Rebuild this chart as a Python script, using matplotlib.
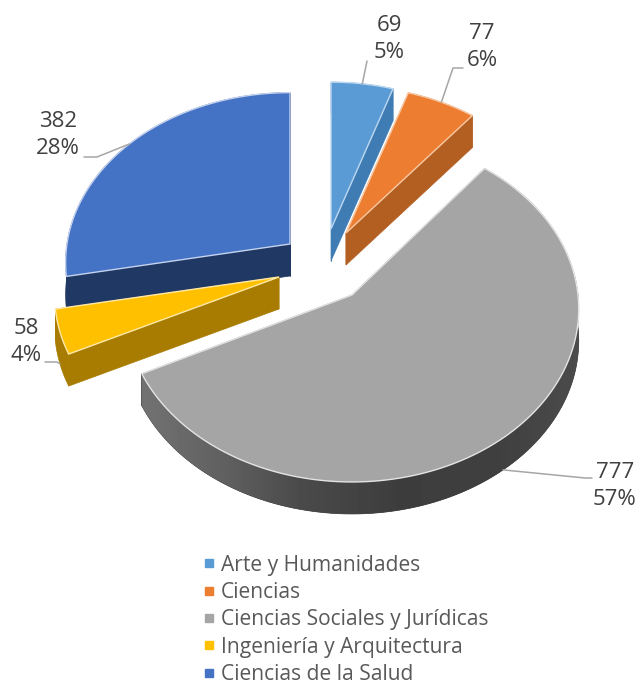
import numpy as np
import matplotlib
matplotlib.use("Agg")
import matplotlib.pyplot as plt
from matplotlib.lines import Line2D
from matplotlib.patches import Polygon

plt.rcParams["font.family"] = ["Open Sans", "DejaVu Sans"]

categories = ["Arte y Humanidades", "Ciencias", "Ciencias Sociales y Jurídicas",
              "Ingeniería y Arquitectura", "Ciencias de la Salud"]
values = [69, 77, 777, 58, 382]
percents = ["5%", "6%", "57%", "4%", "28%"]

top_colors = ["#5b9bd5", "#ed7d31", "#a5a5a5", "#ffc000", "#4472c4"]
side_colors = ["#3f7cb4", "#b45f22", "#3c3c3c", "#a87c00", "#203864"]
edge_colors = ["#bcd8f0", "#f8c9a4", "#e4e4e4", "#ffe9a8", "#c3d2ee"]

# apex of each exploded slice and its radii, in pixels
apex = [(331, 229), (346, 233), (352, 295), (279, 277), (290, 244)]
rx = [219, 220, 226, 223, 223]
ry = [163, 163, 172, 166, 168]
persp = [0.11, 0.11, 0.08, 0.11, 0.11]
DEPTH = 32

# label text centre, then the leader elbow points
label_xy = [(389, 39), (482, 47), (615, 486), (26, 342), (58, 135)]
elbows = [[(367, 61)], [(453, 68), (463, 68)], [(585, 478), (592, 478)],
          [(57, 362), (45, 362)], [(97, 157), (84, 157)]]
leader_drop = [0, 0, DEPTH, DEPTH, 0]

# shading of the grey rim, left to right
shade_x = [140, 230, 300, 400, 500, 585]
shade_grey = [0.45, 0.37, 0.29, 0.24, 0.25, 0.30]

total = sum(values)
edges = np.concatenate([[0], np.cumsum(values)]) / total * 360


def rim(i, deg):
    t = np.radians(deg)
    w = 1 / (1 + persp[i] * np.cos(t))
    return apex[i][0] + rx[i] * np.sin(t) * w, apex[i][1] - ry[i] * np.cos(t) * w


def side(p_list, color):
    pts = list(p_list) + [(x, y + DEPTH) for x, y in reversed(p_list)]
    patch = Polygon(pts, closed=True, fc=color, ec=color, lw=0.5)
    ax.add_patch(patch)
    return patch


fig = plt.figure(figsize=(6.41, 6.84), dpi=100)
ax = fig.add_axes([0, 0, 1, 1])

# painter's order, back to front
for i in [4, 0, 1, 3, 2]:
    degs = np.linspace(edges[i], edges[i + 1], 200)
    x, y = rim(i, degs)
    outer = list(zip(x, y))

    side([apex[i], outer[0]], side_colors[i])
    side([apex[i], outer[-1]], side_colors[i])
    rim_patch = side(outer, side_colors[i])
    if i == 2:
        xs = np.arange(130, 600)
        grad = np.interp(xs, shade_x, shade_grey)[None, :]
        im = ax.imshow(grad, cmap="gray", vmin=0, vmax=1, aspect="auto",
                       extent=(130, 600, 540, 250), zorder=1.5)
        im.set_clip_path(rim_patch)
        rim_patch.set_zorder(1.4)

    ax.add_patch(Polygon([apex[i]] + outer, closed=True, fc=top_colors[i], ec=edge_colors[i],
                         lw=1.0, joinstyle="miter", zorder=2 if i == 2 else 1))

ax.set_xlim(0, 641)
ax.set_ylim(684, 0)
ax.axis("off")

# data labels with leader lines
for i in range(len(values)):
    mid = (edges[i] + edges[i + 1]) / 2
    sx, sy = rim(i, mid)
    xs = [sx] + [p[0] for p in elbows[i]]
    ys = [sy + leader_drop[i]] + [p[1] for p in elbows[i]]
    ax.plot(xs, ys, color="#a6a6a6", lw=1.1, solid_capstyle="round", zorder=3)
    ax.text(label_xy[i][0], label_xy[i][1], f"{values[i]}\n{percents[i]}", ha="center",
            va="center", fontsize=16, color="#404040", linespacing=1.38, zorder=4)

handles = [Line2D([], [], ls="none", marker="s", ms=5.5, mfc=c, mec=c) for c in top_colors]
ax.legend(handles, categories, loc="upper left", bbox_to_anchor=(0.309, 0.189), frameon=False,
          fontsize=15.1, labelcolor="#595959", handletextpad=0.1, handlelength=1.0,
          labelspacing=0.3, borderpad=0, borderaxespad=0)

fig.savefig("out.png", dpi=100)
